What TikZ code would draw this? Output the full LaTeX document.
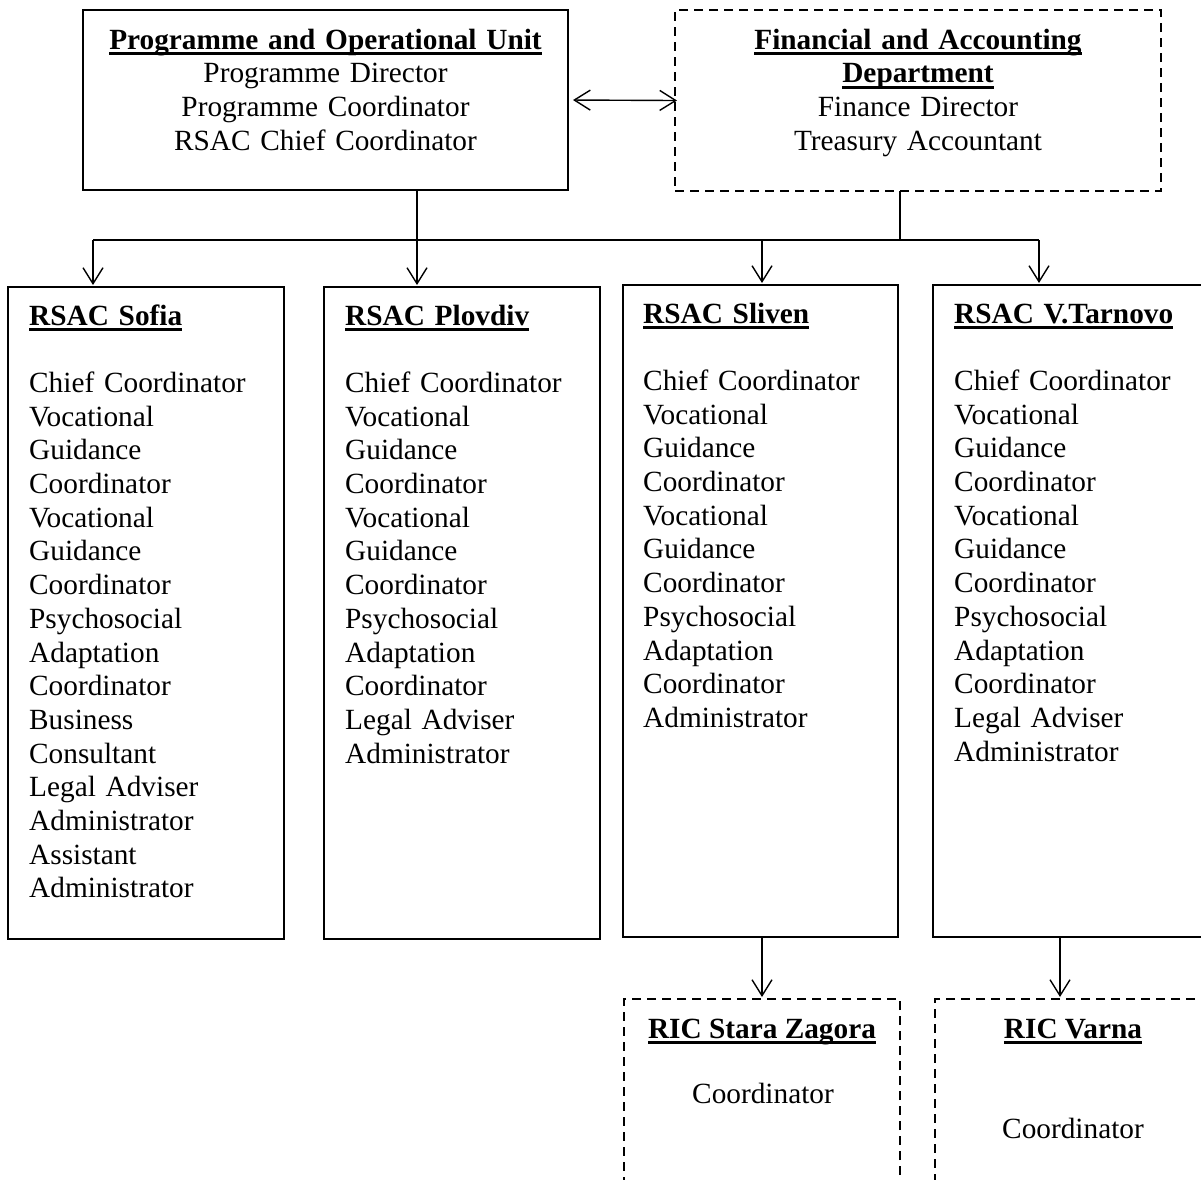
\documentclass[tikz,border=0pt]{standalone}
\usepackage{fontspec}
\setmainfont{Liberation Serif}
\usetikzlibrary{arrows.meta}
\newcommand\ulx[1]{\leavevmode\setbox0\hbox{#1}\rlap{\rule[-6pt]{\wd0}{2.6pt}}\box0}
\tikzset{
  box/.style={draw, line width=1.4pt, inner sep=0pt, outer sep=0pt, anchor=north west},
  dbox/.style={box, dash pattern=on 9pt off 6pt},
  txt/.style={inner sep=0pt, align=left, anchor=base west, text width=270pt},
  ctxt/.style={inner sep=0pt, align=center, anchor=base, text width=470pt},
  mytip/.tip={Straight Barb[length=16pt,width=20pt,line width=1.4pt]},
  arr/.style={-{mytip}, line width=1.4pt, shorten >=2pt},
  ln/.style={line width=1.4pt}
}
\begin{document}
\begin{tikzpicture}[x=1pt,y=-1pt,font=\fontsize{29.3}{33.7}\selectfont]
\useasboundingbox (0,0) rectangle (1201,1179);
% top boxes
\node[box, minimum width=485pt, minimum height=180pt] (pou) at (83,10) {};
\node[dbox, minimum width=486pt, minimum height=181pt] (fad) at (675,10) {};
\node[ctxt] (pouT) at (325.5,49) {\ulx{\textbf{Programme and Operational Unit}}\\Programme Director\\Programme Coordinator\\RSAC Chief Coordinator};
\node[ctxt] (fadT) at (918,49) {\ulx{\textbf{Financial and Accounting}}\\\ulx{\textbf{Department}}\\Finance Director\\Treasury Accountant};
% RSAC boxes
\node[box, minimum width=276pt, minimum height=652pt] (sofia) at (8,287) {};
\node[box, minimum width=276pt, minimum height=652pt] (plovdiv) at (324,287) {};
\node[box, minimum width=275pt, minimum height=652pt] (sliven) at (623,285) {};
\node[box, minimum width=285pt, minimum height=652pt] (tarnovo) at (933,285) {};
\node[txt] (sofiaT) at (29,325) {\ulx{\textbf{RSAC Sofia}}\\[33.7pt]Chief Coordinator\\Vocational\\Guidance\\Coordinator\\Vocational\\Guidance\\Coordinator\\Psychosocial\\Adaptation\\Coordinator\\Business\\Consultant\\Legal Adviser\\Administrator\\Assistant\\Administrator};
\node[txt] (plovdivT) at (345,325) {\ulx{\textbf{RSAC Plovdiv}}\\[33.7pt]Chief Coordinator\\Vocational\\Guidance\\Coordinator\\Vocational\\Guidance\\Coordinator\\Psychosocial\\Adaptation\\Coordinator\\Legal Adviser\\Administrator};
\node[txt] (slivenT) at (643,323) {\ulx{\textbf{RSAC Sliven}}\\[33.7pt]Chief Coordinator\\Vocational\\Guidance\\Coordinator\\Vocational\\Guidance\\Coordinator\\Psychosocial\\Adaptation\\Coordinator\\Administrator};
\node[txt] (tarnovoT) at (954,323) {\ulx{\textbf{RSAC V.Tarnovo}}\\[33.7pt]Chief Coordinator\\Vocational\\Guidance\\Coordinator\\Vocational\\Guidance\\Coordinator\\Psychosocial\\Adaptation\\Coordinator\\Legal Adviser\\Administrator};
% RIC boxes
\node[dbox, minimum width=276pt, minimum height=200pt] (stara) at (624,999) {};
\node[dbox, minimum width=285pt, minimum height=200pt] (varna) at (935,999) {};
\node[inner sep=0pt, anchor=base] (staraT) at (762,1038) {\ulx{\textbf{RIC Stara Zagora}}};
\node[inner sep=0pt, anchor=base] (staraC) at (763,1103) {Coordinator};
\node[inner sep=0pt, anchor=base] (varnaT) at (1073,1038) {\ulx{\textbf{RIC Varna}}};
\node[inner sep=0pt, anchor=base] (varnaC) at (1073,1138) {Coordinator};
% connectors
\draw[{mytip}-{mytip}, line width=1.4pt, shorten <=5pt, shorten >=-2pt] (pou.east) -- (fad.west);
\coordinate (jl) at (93,240);
\coordinate (jr) at (1039,240);
\coordinate (jp) at (417,240);
\coordinate (jf) at (900,240);
\coordinate (js) at (762,240);
\coordinate (kt) at (1060,960);
\draw[ln] (jl) -- (jr);
\draw[ln] (fad.south -| jf) -- (jf);
\draw[arr] (jl) -- (sofia.north -| jl);
\draw[arr] (pou.south -| jp) -- (plovdiv.north -| jp);
\draw[arr] (js) -- (sliven.north -| js);
\draw[arr] (jr) -- (tarnovo.north -| jr);
\draw[arr] (sliven.south -| js) -- (stara.north -| js);
\draw[arr] (tarnovo.south -| kt) -- (varna.north -| kt);
\end{tikzpicture}
\end{document}
